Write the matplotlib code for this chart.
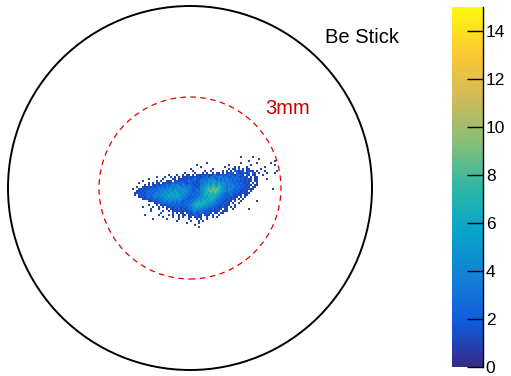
import numpy as np
import matplotlib
matplotlib.use("Agg")
import matplotlib.pyplot as plt
from matplotlib.colors import LinearSegmentedColormap
from matplotlib.patches import Circle

plt.rcParams["font.family"] = ["Liberation Sans", "DejaVu Sans"]

# Beam-spot hit map: one entry per histogram row (top to bottom),
# (first filled column, counts per bin); '.' = empty bin, 'a' = 10.
SPOT_ROWS = [
    (0, ""),
    (54, "1.....1"),
    (63, "1"),
    (58, "1............1"),
    (37, "1................1.......1......1"),
    (32, "1...............1..........1...........1"),
    (34, "1...........1....1.1...1........1"),
    (29, "1..........1.......1.11.2.1.11.....1"),
    (30, "1.....1..1.....1.1.1.12121.1211.1...1.....1"),
    (26, "1....1...1.1..1.11.1.1221.2112212.21.1...1...1"),
    (18, "1...1..1.11.1.111" "212112321322232212321.21.11" "...1"),
    (12, "1...1..1.1.1.11" "1211212122313323342332232321221.1.11"),
    (8, "1......1....1" "1.11" "12121232123234343242434332323221211.11" "....1"),
    (5, "1......1.1..1" "11.121221232221233434545353434332322121212.11"),
    (3, "1....1.1.11.1" "1212322323212" "21212" "33445465464543" "4332323212" "1.1.1"),
    (6, "1.1.1121" "222323434324323" "22121" "34456576575443" "4342322221" "21.11"),
    (2, "1..11" "1212123" "232434344543434" "32212" "44567687686543" "4343232212" "1.11"),
    (0, "1..1" "1212132323" "343445454545443" "32232" "45678798976543" "4432322121" "211"
        "........." "1"),
    (2, "112122323233" "435455465454543" "32233" "45678989876543" "4332221211" ".1"),
    (1, "1121213232343" "445546556545443" "32323" "45676878765432" "3322211211" "1"),
    (1, "1.12122323434" "454565656554433" "23233" "45667767654322" "2321211.11"),
    (3, "11212323433" "445565656544332" "22334" "45657676543322" "21211.1.1"),
    (5, "112122323" "344545454543322" "23345" "56576765433221" "2121.1.1"),
    (8, "112122" "334344343432232" "33456" "56766654332212" "11.1..1" "......." "1"),
    (11, "112" "223233232322323" "34567" "67665443322121" "1.1..1"),
    (8, "1...1." "121222322232233" "45676" "76554433221211" "1..1."),
    (5, "1....1..1.1." "112122212223" "34565" "65443322211211" ".1.1"),
    (7, "..1...1...1." "1121212123" "34544" "43332221211.11" "..1" "......." "1"),
    (9, "1.....1..1.1" "11211212" "23433" "3322212112.111" "."),
    (14, "1.....1." "1.11.1212312321221.11.11."),
    (6, "1......1....1." "1..1.11.1212211.111.1..1."),
    (15, "1....1..1.1..11.1211..1..1.1"),
    (10, "1......1.....1....1...1.1..1"),
    (22, "1......1...1.1"),
    (27, "1.....1"),
    (31, "1"),
    (33, "1"),
]

BIN_MM = 0.066          # histogram bin width (mm)
X_MIN_MM = -1.91        # left edge of the first column
Y_MAX_MM = 1.12         # top edge of the first row

Z_MAX = 15
Z_TICKS = [0, 2, 4, 6, 8, 10, 12, 14]

OUTER_R_MM = 6.0
INNER_R_MM = 3.0
TITLE = "Be Stick"
INNER_LABEL = "3mm"

# ROOT kBird palette
_stops = [0.0000, 0.1250, 0.2500, 0.3750, 0.5000, 0.6250, 0.7500, 0.8750, 1.0000]
_red = [0.2082, 0.0592, 0.0780, 0.0232, 0.1802, 0.5301, 0.8186, 0.9956, 0.9764]
_green = [0.1664, 0.3599, 0.5041, 0.6419, 0.7178, 0.7492, 0.7328, 0.7862, 0.9832]
_blue = [0.5293, 0.8684, 0.8385, 0.7914, 0.6425, 0.4662, 0.3499, 0.1968, 0.0539]
bird = LinearSegmentedColormap.from_list(
    "bird", list(zip(_stops, zip(_red, _green, _blue))), N=255)


def decode(rows):
    n_cols = max(start + len(s) for start, s in rows)
    grid = np.zeros((len(rows), n_cols))
    for r, (start, s) in enumerate(rows):
        for k, ch in enumerate(s):
            if ch != ".":
                grid[r, start + k] = int(ch, 16)
    return grid


counts = decode(SPOT_ROWS)
n_rows, n_cols = counts.shape
x_edges = X_MIN_MM + BIN_MM * np.arange(n_cols + 1)
y_edges = Y_MAX_MM - BIN_MM * np.arange(n_rows + 1)

W, H = 511, 376
fig = plt.figure(figsize=(W / 100, H / 100), dpi=100)

# main pad: equal scale, circle centre at pixel (190, 188)
px_per_mm = 182 / OUTER_R_MM
ax = fig.add_axes([0, 0, 380 / W, 1])
ax.set_xlim(-190 / px_per_mm, 190 / px_per_mm)
ax.set_ylim(-188 / px_per_mm, 188 / px_per_mm)
ax.axis("off")

mesh = ax.pcolormesh(x_edges, y_edges, np.ma.masked_equal(counts, 0),
                     cmap=bird, vmin=0, vmax=Z_MAX, shading="flat")

ax.add_patch(Circle((0, 0), OUTER_R_MM, fill=False, ec="black", lw=1.4))
ax.add_patch(Circle((0, 0), INNER_R_MM, fill=False, ec="#e00000", lw=0.9,
                    ls=(0, (4.5, 3.5))))

ax.text(4.45, 4.78, TITLE, fontsize=14.5, color="black", ha="left",
        va="baseline")
ax.text(2.47, 2.44, INNER_LABEL, fontsize=14.5, color="#cc0000", ha="left",
        va="baseline")

# palette axis
cax = fig.add_axes([452 / W, (H - 367) / H, 31 / W, 360 / H])
cbar = fig.colorbar(mesh, cax=cax, ticks=Z_TICKS)
cbar.outline.set_visible(False)
cax.tick_params(axis="y", direction="in", length=11.5, width=1.0,
                labelsize=12.5, pad=2, colors="black")
cax.minorticks_off()
cax.plot([1, 1], [0, 1], transform=cax.transAxes, color="black", lw=1.0,
         clip_on=False)

fig.savefig("out.png", dpi=100)
